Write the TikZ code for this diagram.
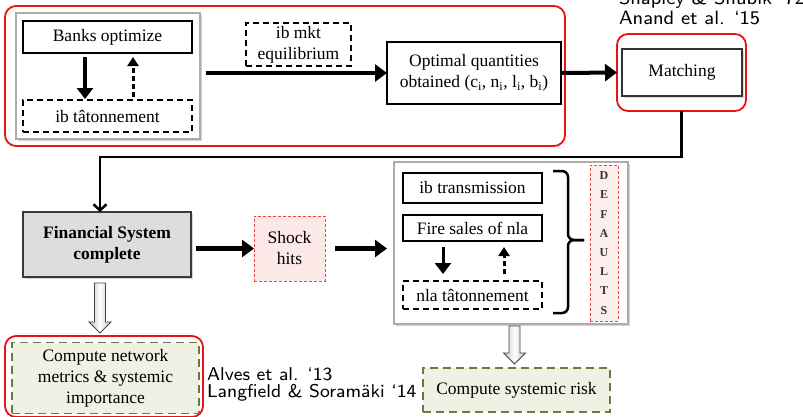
\documentclass[tikz,border=0pt]{standalone}
\usepackage{fontspec}
\setmainfont{Liberation Serif}
\newfontfamily\citefont{lmsans8-regular.otf}
\usetikzlibrary{arrows.meta,shadows,calc}

\definecolor{frame}{RGB}{230,20,20}
\definecolor{moss}{RGB}{105,122,58}
\definecolor{mossfill}{RGB}{238,241,227}
\definecolor{pinkfill}{RGB}{253,232,232}
\definecolor{shockred}{RGB}{240,70,60}
\definecolor{panelgray}{RGB}{221,221,221}

% block arrow pointing down: start point, shaft length
\newcommand\blockarrow[2]{%
  \path[hollow] (#1) ++(-5.5,0) -- ++(0,#2) -- ++(-5.5,0) -- ++(11,11)
    -- ++(11,-11) -- ++(-5.5,0) -- ++(0,-#2) -- cycle;}

\begin{document}
\begin{tikzpicture}[x=1pt,y=-1pt,
  every node/.style={inner sep=0pt, outer sep=0pt, align=center,
    font=\fontsize{17.5}{21}\selectfont},
  redgroup/.style={draw=frame, line width=1.8pt, rounded corners=11pt},
  panel/.style={draw=gray!65, line width=2pt, fill=white,
    drop shadow={shadow xshift=2pt, shadow yshift=-2pt, opacity=0.35, fill=gray}},
  plainbox/.style={draw=black, line width=1.3pt, fill=white},
  dashbox/.style={draw=black, line width=1.3pt, dash pattern=on 6pt off 4pt, fill=white},
  pinkbox/.style={draw=shockred, fill=pinkfill, line width=0.9pt, dash pattern=on 3pt off 2pt},
  mossbox/.style={draw=moss, fill=mossfill, line width=1.4pt, dash pattern=on 8pt off 5pt},
  flow/.style={-{Triangle[length=12pt,width=17pt]}, line width=4.5pt},
  loopdown/.style={-{Triangle[length=11pt,width=16pt]}, line width=3.5pt},
  loopup/.style={-{Triangle[length=9pt,width=11pt]}, line width=3pt, dash pattern=on 5pt off 3pt},
  ret/.style={line width=2.5pt, -{Straight Barb[length=6pt,width=13pt]}},
  hollow/.style={draw=gray!55!black, line width=0.9pt, left color=gray!50,
    right color=gray!50, middle color=white},
  bracket/.style={line width=2.5pt, rounded corners=6pt},
  cite/.style={anchor=base west, font=\citefont\fontsize{18.5}{20}\selectfont},
  topcite/.style={cite, font=\citefont\fontsize{19.3}{20}\selectfont}]

\useasboundingbox (0,0) rectangle (803,416);

% ---- upper stage: optimisation and matching ----
\node[redgroup, minimum width=560pt, minimum height=140pt] (stageA) at (285,76) {};
\node[panel, minimum width=184pt, minimum height=126pt] (bankbox) at (108,76) {};
\node[plainbox, minimum width=169pt, minimum height=32pt] (bank) at (107.5,37) {Banks optimize};
\node[dashbox, minimum width=169pt, minimum height=32pt] (ibtat) at (107.5,116) {ib tâtonnement};
\draw[loopdown, shorten <=4pt, shorten >=1pt] ([xshift=-22.5pt]bank.south) -- ([xshift=-22.5pt]ibtat.north);
\draw[loopup, shorten <=3pt, shorten >=4pt] ([xshift=25.5pt]ibtat.north) -- ([xshift=25.5pt]bank.south);

\node[dashbox, minimum width=105pt, minimum height=43pt] (mkt) at (298.5,44.5) {ib mkt\\equilibrium};
\node[plainbox, minimum width=174pt, minimum height=62pt] (optimal) at (474,73)
  {Optimal quantities\\obtained (c\textsubscript{i}, n\textsubscript{i}, l\textsubscript{i}, b\textsubscript{i})};
\draw[flow, shorten <=6pt] (bankbox.east |- optimal.west) -- (optimal.west);

\node[redgroup, minimum width=129pt, minimum height=77pt] (matchred) at (681.5,72.5) {};
\node[draw=black!80, line width=1.8pt, fill=white, minimum width=120pt, minimum height=47pt,
  drop shadow={shadow xshift=1.5pt, shadow yshift=-1.5pt, opacity=0.3, fill=gray}] (match) at (682,72.5) {Matching};
\draw[flow, line width=4pt] (optimal.east) -- (matchred.west);

\node[topcite] (shapley) at (619,4) {Shapley \& Shubik ‘72};
\node[topcite] (anand) at (619,24) {Anand et al. ‘15};

% ---- lower stage: shock propagation ----
\node[panel, draw=gray!45!black, line width=1.5pt, fill=panelgray, minimum width=168pt, minimum height=65pt,
  font=\bfseries\fontsize{17.5}{21}\selectfont] (fin) at (107,244.5) {Financial System\\complete};
\coordinate (elbow) at (100,157);
\draw[ret] (matchred.south) |- (elbow) -- (elbow |- fin.north);

\node[pinkbox, minimum width=71pt, minimum height=65pt] (shock) at (289.5,248.5) {Shock\\hits};
\draw[flow, shorten <=5pt] (fin.east |- shock.west) -- (shock.west);

\node[panel, minimum width=234pt, minimum height=162pt] (bigbox) at (511,243) {};
\draw[flow, shorten <=10pt, shorten >=7pt] (shock.east) -- (shock.east -| bigbox.west);
\node[plainbox, minimum width=139pt, minimum height=30pt] (ibtrans) at (472.5,188) {ib transmission};
\node[plainbox, minimum width=139pt, minimum height=26pt] (fire) at (472.5,228) {Fire sales of nla};
\node[dashbox, minimum width=139pt, minimum height=28pt] (nlatat) at (472.5,295) {nla tâtonnement};
\draw[loopdown, line width=3pt, shorten <=6pt, shorten >=7pt] ([xshift=-29.5pt]fire.south) -- ([xshift=-29.5pt]nlatat.north);
\draw[loopup, shorten <=7pt, shorten >=6pt] ([xshift=31.5pt]nlatat.north) -- ([xshift=31.5pt]fire.south);

% bracket gathering the three channels
\coordinate (bracetop) at (553,171);
\coordinate (bracebot) at (553,313);
\coordinate (bracetip) at (584,240);
\draw[bracket] (bracetop) -- (bracetop -| 568,0) -- (568,240) -- (bracetip);
\draw[bracket] (bracebot) -- (bracebot -| 568,0) -- (568,240) -- (bracetip);

\node[pinkbox, fill=pinkfill!70, minimum width=28pt, minimum height=156pt,
  font=\bfseries\fontsize{12}{19.2}\selectfont, text=black!80] (defaults) at (604,243)
  {D\\E\\F\\A\\U\\L\\T\\S};

% ---- outputs ----
\blockarrow{[xshift=-7pt,yshift=-6pt]fin.south}{39}
\node[redgroup, minimum width=198pt, minimum height=81pt] (netred) at (104,376.5) {};
\node[mossbox, minimum width=187pt, minimum height=71pt] (netmetrics) at (105.5,378)
  {Compute network\\metrics \& systemic\\importance};
\node[cite] (alves) at (207,380) {Alves et al. ‘13};
\node[cite] (langfield) at (207,397) {Langfield \& Soramäki ‘14};

\blockarrow{[xshift=3.5pt,yshift=-2pt]bigbox.south}{27}
\node[mossbox, minimum width=187pt, minimum height=44pt] (sysrisk) at (516.5,390) {Compute systemic risk};

\end{tikzpicture}
\end{document}
